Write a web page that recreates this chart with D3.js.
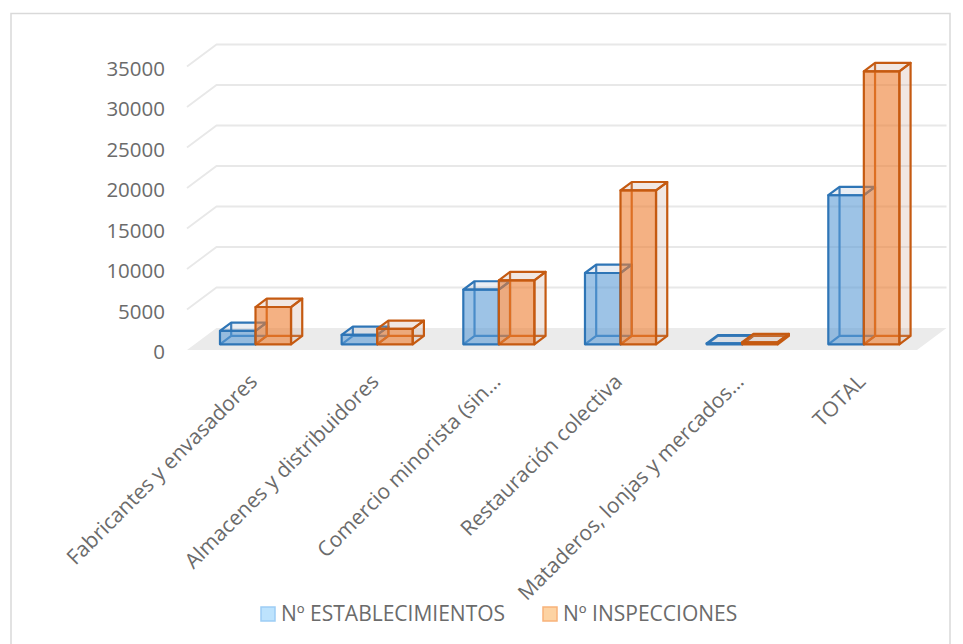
<!DOCTYPE html>
<html>
<head>
<meta charset="utf-8">
<script src="https://cdn.jsdelivr.net/npm/d3@7"></script>
<style>
  html, body { margin: 0; padding: 0; background: #ffffff; }
  svg { display: block; font-family: "Open Sans", "Noto Sans", sans-serif; }
</style>
</head>
<body>
<svg id="chart" width="963" height="644"></svg>
<script>
// Categories, series and values
const categories = [
  "Fabricantes y envasadores",
  "Almacenes y distribuidores",
  "Comercio minorista (sin…",
  "Restauración colectiva",
  "Mataderos, lonjas y mercados…",
  "TOTAL"
];
const seriesNames = ["Nº ESTABLECIMIENTOS", "Nº INSPECCIONES"];
const establecimientos = [1650, 1150, 6750, 8800, 100, 18400];
const inspecciones = [4600, 1900, 7900, 19000, 250, 33700];
const tickValues = [0, 5000, 10000, 15000, 20000, 25000, 30000, 35000];

const seriesValues = [establecimientos, inspecciones];

const svg = d3.select("#chart");

// Outer chart frame
svg.append("rect")
  .attr("x", 11).attr("y", 13.5)
  .attr("width", 939).attr("height", 660)
  .attr("fill", "none").attr("stroke", "#d9d9d9").attr("stroke-width", 1.5);

// 3D plot geometry: front floor edge and depth offset of the back wall
const x0 = 187, x1 = 917, yBase = 350;
const DX = 29.5, DY = 22;
const barT1 = 0.26, barT2 = 0.64;   // bar depth position within the floor

const yScale = d3.scaleLinear().domain([0, 35000]).range([0, 283.5]);

const xCat = d3.scaleBand().domain(categories).range([x0, x1])
  .paddingInner(0.416).paddingOuter(0.208);
const xSer = d3.scaleBand().domain(seriesNames).range([0, xCat.bandwidth()]);

const P = (x, v, t) => [x + t * DX, yBase - yScale(v) - t * DY];

// Floor
const floor = [P(x0, 0, 0), P(x1, 0, 0), P(x1, 0, 1), P(x0, 0, 1)];
svg.append("polygon")
  .attr("points", floor.map(p => p.join(",")).join(" "))
  .attr("fill", "#ebebeb");

// Gridlines: back wall plus diagonal on the left side wall
const grid = svg.append("g");
tickValues.filter(v => v > 0).forEach(v => {
  const a = P(x0, v, 0), b = P(x0, v, 1), c = P(x1, v, 1);
  grid.append("polyline")
    .attr("points", [a, b, c].map(p => p.join(",")).join(" "))
    .attr("fill", "none").attr("stroke", "#e8e8e8").attr("stroke-width", 1.8);
});

// Value axis labels
svg.append("g").selectAll("text").data(tickValues).join("text")
  .attr("x", 165)
  .attr("y", v => yBase - yScale(v) + 1)
  .attr("text-anchor", "end")
  .attr("dominant-baseline", "central")
  .attr("font-size", 20.5)
  .attr("fill", "#6b6b6b")
  .text(v => v);

// Bars as transparent 3D boxes
const styles = [
  { stroke: "#2e75b6", front: "rgba(91,155,213,0.6)", side: "rgba(150,170,200,0.2)" },
  { stroke: "#c55a11", front: "rgba(237,125,49,0.6)", side: "rgba(200,160,140,0.25)" }
];
const bars = svg.append("g");
const line = pts => "M" + pts.map(p => p.join(",")).join("L");

categories.forEach((cat, ci) => {
  seriesNames.forEach((s, si) => {
    const v = seriesValues[si][ci];
    const st = styles[si];
    const L = xCat(cat) + xSer(s), R = L + xSer.bandwidth();
    const g = bars.append("g")
      .attr("stroke", st.stroke).attr("stroke-width", 2.2)
      .attr("stroke-linejoin", "round");
    const fbl = P(L, 0, barT1), fbr = P(R, 0, barT1), ftl = P(L, v, barT1), ftr = P(R, v, barT1);
    const bbl = P(L, 0, barT2), bbr = P(R, 0, barT2), btl = P(L, v, barT2), btr = P(R, v, barT2);
    // hidden edges
    g.append("path").attr("fill", "none")
      .attr("d", line([fbl, bbl, bbr]) + line([bbl, btl]));
    // right side face
    g.append("path").attr("fill", st.side)
      .attr("d", line([fbr, bbr, btr, ftr]) + "Z");
    // top face
    g.append("path").attr("fill", st.side)
      .attr("d", line([ftl, btl, btr, ftr]) + "Z");
    // front face
    g.append("path").attr("fill", st.front)
      .attr("d", line([fbl, fbr, ftr, ftl]) + "Z");
  });
});

// Category labels, rotated
svg.append("g").selectAll("text").data(categories).join("text")
  .attr("transform", d => {
    const cx = xCat(d) + xCat.bandwidth() / 2 + barT1 * DX;
    return `translate(${cx + 3},${yBase + 33}) rotate(-45)`;
  })
  .attr("text-anchor", "end")
  .attr("font-size", 21)
  .attr("fill", "#6b6b6b")
  .text(d => d);

// Legend
const legendItems = [
  { name: seriesNames[0], x: 260, fill: "#bde3fd", stroke: "#9dcdf5" },
  { name: seriesNames[1], x: 542, fill: "#fdd3a3", stroke: "#f8b27a" }
];
const lg = svg.append("g");
legendItems.forEach(it => {
  lg.append("rect")
    .attr("x", it.x + 1).attr("y", 607).attr("width", 14).attr("height", 14)
    .attr("fill", it.fill).attr("stroke", it.stroke).attr("stroke-width", 1.5);
  lg.append("text")
    .attr("x", it.x + 21).attr("y", 621)
    .attr("font-size", 21)
    .attr("fill", "#6b6b6b")
    .text(it.name);
});
</script>
</body>
</html>
